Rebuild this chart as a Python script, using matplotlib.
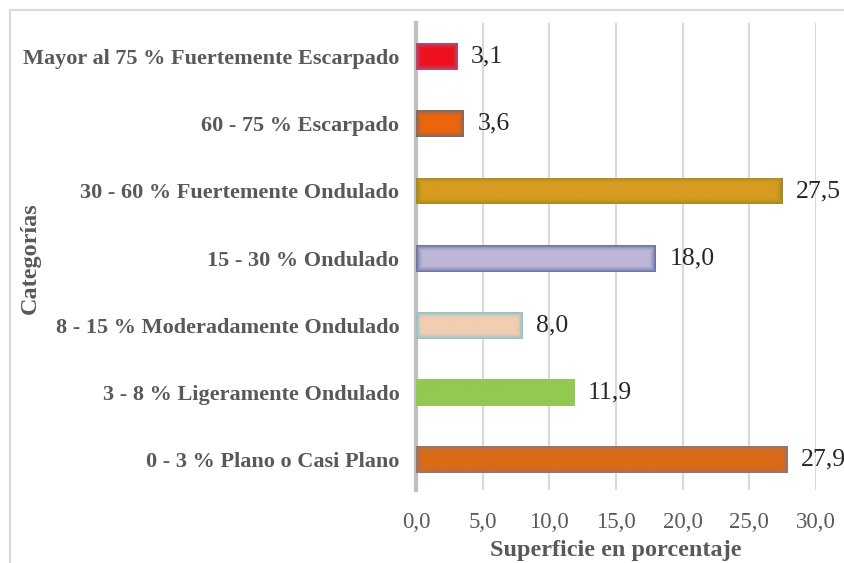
import numpy as np
import matplotlib
matplotlib.use("Agg")
import matplotlib.pyplot as plt
from matplotlib.colors import to_rgb
from matplotlib.patches import Rectangle

# datos
categorias = ["0 - 3 % Plano o Casi Plano",
              "3 - 8 % Ligeramente Ondulado",
              "8 - 15 % Moderadamente Ondulado",
              "15 - 30 % Ondulado",
              "30 - 60 % Fuertemente Ondulado",
              "60 - 75 % Escarpado",
              "Mayor al 75 % Fuertemente Escarpado"]
valores = [27.9, 11.9, 8.0, 18.0, 27.5, 3.6, 3.1]
ticks_x = [0, 5, 10, 15, 20, 25, 30]

# color centro / color borde de cada barra
color_centro = ["#DA6A16", "#92C94F", "#F2CDB2", "#BEB6D6", "#D69B20", "#EC640C", "#EE101C"]
color_borde = ["#9C7468", "#94C85A", "#8CC2CC", "#6A73A2", "#A48A1E", "#7A6A66", "#B0507A"]

plt.rcParams["font.family"] = ["Liberation Serif", "DejaVu Serif"]
gris = "#595959"

fig = plt.figure(figsize=(8.45, 5.63), dpi=100)
ax = fig.add_axes([416/845, 1-490/563, 400/845, (490-23)/563])

alto = 0.4
barras = ax.barh(range(len(valores)), valores, height=alto, color=color_centro, zorder=2)

# degradado tipo "resplandor" dentro de cada barra
ny, nx = 40, 200
yy = np.linspace(-1, 1, ny)[:, None]
for b, c1, c2 in zip(barras, color_centro, color_borde):
    x0, y0 = b.get_x(), b.get_y()
    w, h = b.get_width(), b.get_height()
    px_w = w * 400/30
    xx = np.linspace(-1, 1, nx)[None, :]
    dy = 1 - np.abs(yy)
    dx = (1 - np.abs(xx)) * px_w / 27.0
    d = np.clip(np.minimum(dx, dy) / 0.45, 0, 1)
    t = (1 - d) ** 1.5
    a = np.array(to_rgb(c1)); e = np.array(to_rgb(c2))
    img = a[None, None, :] * (1 - t[..., None]) + e[None, None, :] * t[..., None]
    im = ax.imshow(img, extent=(x0, x0 + w, y0, y0 + h), aspect="auto",
                   origin="lower", zorder=3, interpolation="bilinear")
    im.set_clip_path(b)

ax.set_xlim(0, 30)
ax.set_ylim(-0.45, 6.5)
ax.set_xticks(ticks_x)
ax.set_xticklabels([f"{v:.1f}".replace(".", ",") for v in ticks_x], fontsize=16.5, color=gris)
ax.set_yticks(range(len(categorias)))
ax.set_yticklabels(categorias, fontsize=16, fontweight="bold", color=gris)
ax.tick_params(axis="x", length=0, pad=16)
ax.tick_params(axis="y", length=0, pad=12)

ax.grid(axis="x", color="#D9D9D9", lw=1.5, zorder=0)
ax.set_axisbelow(True)
for s in ["top", "right", "bottom"]:
    ax.spines[s].set_visible(False)
ax.spines["left"].set_color("#BFBFBF")
ax.spines["left"].set_linewidth(3)

# etiquetas de datos
for i, v in enumerate(valores):
    ax.text(v + 1.0, i, f"{v:.1f}".replace(".", ","), va="center", ha="left",
            fontsize=18.5, color="#262626", zorder=4, clip_on=False)

ax.set_xlabel("Superficie en porcentaje", fontsize=17.5, fontweight="bold", color=gris, labelpad=5)
fig.text(30/845, 1-258/563, "Categorías", rotation=90, fontsize=17.5, fontweight="bold",
         color=gris, ha="center", va="center")

# marco exterior
fig.patches.append(Rectangle((10/845, -0.1), 1.0, 1-10/563+0.1, transform=fig.transFigure,
                             fill=False, edgecolor="#D9D9D9", lw=1.5))

fig.savefig("out.png", dpi=100)
